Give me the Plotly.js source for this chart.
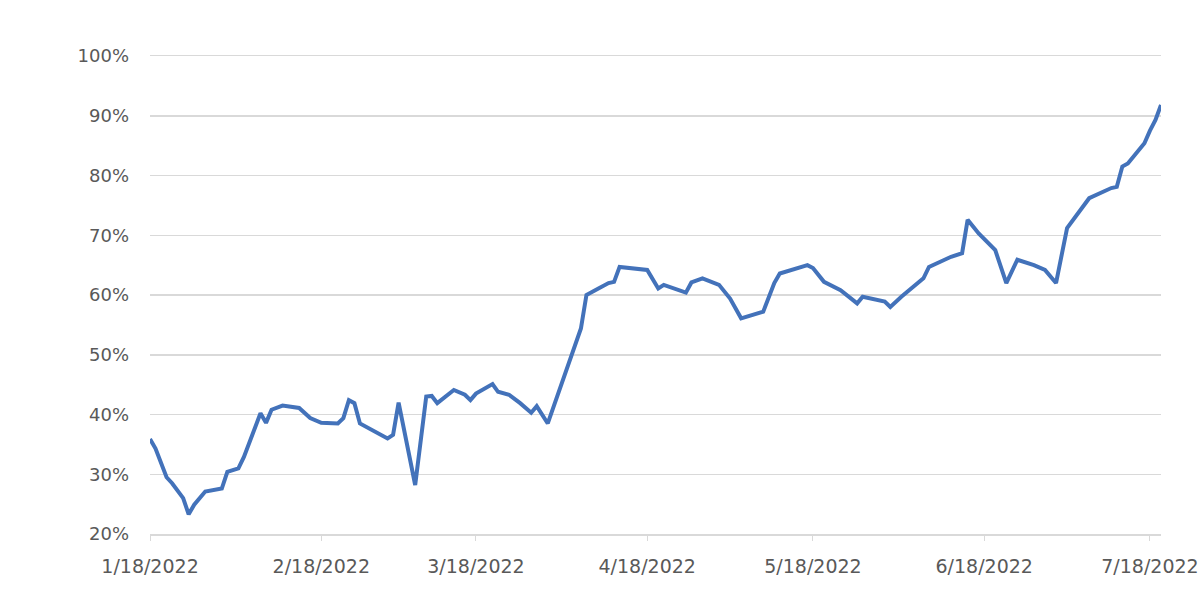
<!DOCTYPE html>
<html>
<head>
<meta charset="utf-8">
<script src="https://cdn.plot.ly/plotly-3.0.1.min.js"></script>
<style>
  html, body { margin: 0; padding: 0; background: #ffffff; }
  #chart { width: 1200px; height: 608px; }
</style>
</head>
<body>
<div id="chart"></div>
<script>
const dates = [
  "2022-01-18","2022-01-19","2022-01-21","2022-01-22","2022-01-24","2022-01-25","2022-01-26","2022-01-28","2022-01-31",
  "2022-02-01","2022-02-03","2022-02-04","2022-02-07","2022-02-08","2022-02-09","2022-02-11","2022-02-14","2022-02-16",
  "2022-02-18","2022-02-21","2022-02-22","2022-02-23","2022-02-24","2022-02-25",
  "2022-03-02","2022-03-03","2022-03-04","2022-03-07","2022-03-09","2022-03-10","2022-03-11","2022-03-14","2022-03-16",
  "2022-03-17","2022-03-18","2022-03-21","2022-03-22","2022-03-24","2022-03-26","2022-03-28","2022-03-29","2022-03-31",
  "2022-04-06","2022-04-07","2022-04-09","2022-04-11","2022-04-12","2022-04-13","2022-04-18","2022-04-20","2022-04-21",
  "2022-04-25","2022-04-26","2022-04-28",
  "2022-05-01","2022-05-03","2022-05-05","2022-05-09","2022-05-11","2022-05-12","2022-05-17","2022-05-18","2022-05-20",
  "2022-05-23","2022-05-26","2022-05-27","2022-05-31",
  "2022-06-01","2022-06-03","2022-06-07","2022-06-08","2022-06-12","2022-06-14","2022-06-15","2022-06-17","2022-06-20",
  "2022-06-22","2022-06-24","2022-06-27","2022-06-29",
  "2022-07-01","2022-07-03","2022-07-07","2022-07-11","2022-07-12","2022-07-13","2022-07-14","2022-07-17","2022-07-18",
  "2022-07-19","2022-07-20"
];
const values = [
  35.9,34.3,29.5,28.5,26.0,23.3,24.9,27.1,27.6,
  30.4,31.0,32.9,40.2,38.6,40.8,41.5,41.1,39.4,
  38.6,38.5,39.4,42.4,41.9,38.5,
  36.0,36.6,42.0,28.2,43.0,43.1,41.9,44.1,43.3,
  42.4,43.5,45.1,43.8,43.3,41.9,40.3,41.4,38.5,
  54.4,60.0,61.0,62.0,62.2,64.7,64.2,61.1,61.7,
  60.4,62.1,62.8,
  61.7,59.4,56.1,57.2,62.0,63.6,65.0,64.5,62.2,
  60.8,58.6,59.7,58.9,
  58.0,59.7,62.8,64.7,66.4,67.0,72.6,70.3,67.5,
  62.0,65.9,65.0,64.2,
  62.0,71.2,76.2,77.9,78.1,81.5,82.0,85.4,87.5,
  89.3,91.8
];
const tickDates = ["2022-01-18","2022-02-18","2022-03-18","2022-04-18","2022-05-18","2022-06-18","2022-07-18"];
const tickLabels = ["1/18/2022","2/18/2022","3/18/2022","4/18/2022","5/18/2022","6/18/2022","7/18/2022"];
const yTicks = [20,30,40,50,60,70,80,90,100];
const yTickLabels = ["20%","30%","40%","50%","60%","70%","80%","90%","100%"];

const trace = {
  x: dates,
  y: values,
  type: "scatter",
  mode: "lines",
  line: { color: "#4372BA", width: 4, shape: "linear" },
  hoverinfo: "x+y"
};

const layout = {
  width: 1200,
  height: 608,
  margin: { l: 150, r: 39, t: 56, b: 74 },
  paper_bgcolor: "#ffffff",
  plot_bgcolor: "#ffffff",
  showlegend: false,
  font: { family: "DejaVu Sans, sans-serif", color: "#595959" },
  xaxis: {
    type: "date",
    range: ["2022-01-18", "2022-07-20"],
    tickmode: "array",
    tickvals: tickDates,
    ticktext: tickLabels,
    showgrid: false,
    zeroline: false,
    showline: true,
    mirror: true,
    linecolor: "#d9d9d9",
    linewidth: 1.5,
    ticks: "outside",
    ticklen: 5,
    tickwidth: 1,
    tickcolor: "#d9d9d9",
    ticklabelstandoff: 10,
    ticklabeloverflow: "allow",
    tickfont: { family: "DejaVu Sans, sans-serif", size: 19, color: "#595959" }
  },
  yaxis: {
    range: [20, 100],
    tickmode: "array",
    tickvals: yTicks,
    ticktext: yTickLabels,
    showgrid: true,
    gridcolor: "#d9d9d9",
    gridwidth: 1.5,
    zeroline: false,
    showline: false,
    ticks: "",
    ticklabelstandoff: 20,
    tickfont: { family: "DejaVu Sans, sans-serif", size: 18, color: "#595959" }
  }
};

Plotly.newPlot("chart", [trace], layout, { displayModeBar: false, staticPlot: true });
</script>
</body>
</html>
